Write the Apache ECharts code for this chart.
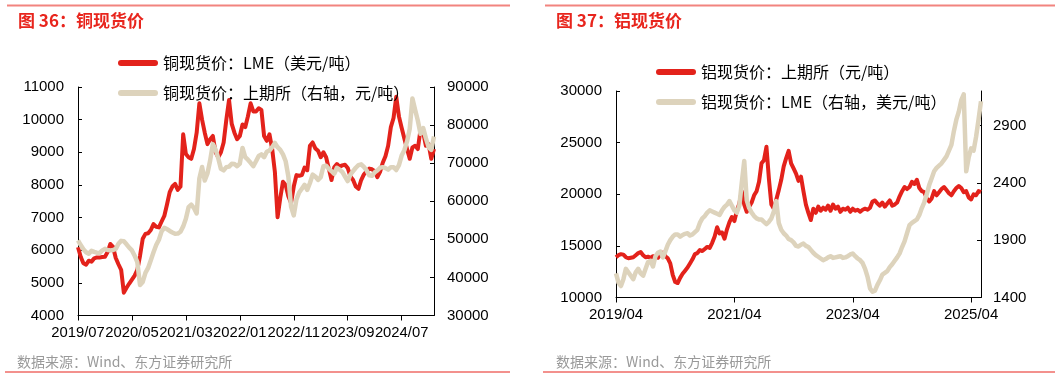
<!DOCTYPE html>
<html><head><meta charset="utf-8">
<script src="https://cdn.jsdelivr.net/npm/echarts@6/dist/echarts.min.js"></script>
<style>html,body{margin:0;padding:0;background:#fff}#c{width:1061px;height:379px}</style>
</head><body><div id="c"></div>
<script>
// ---------- Data (half-month samples) ----------
const cuStart = [2019, 7];
const cuXLabels = ['2019/07','2020/05','2021/03','2022/01','2022/11','2023/09','2024/07'];
const cuLME = [6090,5800,5600,5560,5680,5650,5750,5780,5780,5790,5800,5950,6190,6100,5760,5570,5400,4700,4850,4980,
5100,5220,5400,5830,6350,6500,6520,6620,6800,6720,6700,6880,7050,7400,7780,7950,8030,7850,7950,9550,
8950,8850,8800,9100,9600,10500,10000,9600,9250,9400,9500,9000,8850,9000,9300,10000,10600,9870,9600,9400,
9500,9850,9770,10100,10500,10250,10250,10350,10300,9500,9350,9550,9100,8400,7010,7600,8100,8000,7650,7450,
7950,8300,8280,8300,8530,8450,9200,9300,9120,9050,8850,9000,8850,8500,8150,8540,8640,8560,8600,8620,
8520,8260,8150,7950,7880,8150,8320,8420,8500,8480,8420,8240,8400,8680,8880,9200,9770,10050,10700,10100,
9750,9420,9100,8800,9150,9200,9100,9700,9600,9200,9250,8800,9100];
const cuSHFE = [49700,48500,47400,46600,46200,47000,46700,46500,46400,47100,47500,47200,47100,47200,47500,48840,49600,49500,48700,47800,
47090,45700,44000,38000,38800,41200,42500,44500,46600,48500,49900,52100,53000,52700,52200,51800,51460,51500,52000,53400,
55400,58450,59100,58200,56800,66000,69000,65460,67300,70700,75000,73600,71300,68500,68100,68960,69100,69830,69800,69200,
69900,74000,71580,70900,70100,69200,70500,71900,72300,71580,73000,73330,74200,75300,74200,73500,72300,70500,66500,58600,
56300,60500,62300,63300,64300,63000,64800,67000,66500,65600,66330,69200,69300,68500,67900,67210,68800,68300,67700,66500,
65300,67000,67900,68800,69500,69700,69000,68100,66800,66700,67600,68080,68800,68960,68700,68300,68960,68960,68200,69500,
72000,73400,75700,79000,87000,84000,81200,77700,79200,76500,74200,73500,77000];

const alStart = [2019, 4];
const alXLabels = ['2019/04','2021/04','2023/04','2025/04'];
const alSHFE = [13900,14100,14200,14150,13900,13800,13850,13900,14100,14300,14400,14100,13900,13950,13850,14000,13950,13850,14200,14350,
14000,13800,13300,12200,11500,11400,11900,12300,12600,12900,13300,13700,14200,14300,14600,14500,14700,14900,14800,15300,
15900,16800,16200,16300,15700,16600,17300,17800,17400,18400,19100,20300,19000,18300,18800,19200,19900,20300,21200,23000,
23300,24600,21500,19000,18600,19500,20400,21400,22700,23500,24200,23000,22500,22000,21300,21700,20300,19000,18200,17500,
18600,18200,18800,18400,18700,18500,18900,18400,19000,18600,18800,18300,18600,18500,18700,18300,18600,18400,18500,18300,
18500,18600,18500,18700,19300,19400,19100,18900,19200,18800,19100,19400,18900,19000,19200,19800,20300,20700,20500,20700,
21200,21000,21400,20600,20300,20200,19600,19300,19600,20300,19900,20200,20500,20700,20400,20100,19900,20300,20600,20800,
20600,20200,20300,19700,19500,20000,19900,20300,20200];
const alLME = [1610,1530,1500,1560,1650,1620,1590,1560,1620,1650,1610,1590,1650,1710,1720,1670,1760,1790,1800,1750,
1800,1860,1900,1930,1950,1950,1930,1945,1955,1960,1940,1950,1970,1990,2050,2090,2110,2140,2160,2150,
2140,2130,2120,2160,2190,2210,2240,2200,2160,2140,2200,2400,2590,2250,2180,2140,2110,2090,2080,2080,
2060,2040,2060,2090,2150,2240,2050,1990,1960,1940,1910,1900,1880,1850,1845,1860,1870,1850,1840,1815,
1790,1770,1755,1740,1725,1735,1750,1760,1745,1750,1755,1760,1745,1750,1760,1775,1783,1760,1740,1725,
1700,1650,1580,1480,1450,1460,1510,1550,1600,1615,1630,1665,1690,1720,1750,1785,1840,1890,1960,2030,
2050,2065,2080,2120,2180,2230,2300,2380,2440,2500,2530,2550,2570,2600,2630,2680,2730,2850,2950,3020,
3120,3170,2500,2620,2700,2680,2800,2950,3110];

// ---------- helpers ----------
function halfMonthDates(start, n) {
  const out = [];
  for (let i = 0; i < n; i++) {
    const m0 = start[1] - 1 + Math.floor(i / 2);
    const y = start[0] + Math.floor(m0 / 12), m = (m0 % 12) + 1;
    out.push(y + '-' + String(m).padStart(2, '0') + '-' + (i % 2 ? '16' : '01'));
  }
  return out;
}
function monthOffset(date, start) {
  const [y, m, d] = date.split('-').map(Number);
  return (y - start[0]) * 12 + (m - start[1]) + (d - 1) / 30;
}
const cuDates = halfMonthDates(cuStart, cuLME.length);
const alDates = halfMonthDates(alStart, alSHFE.length);
const pairs = (dates, vals, start) => dates.map((d, i) => [monthOffset(d, start), vals[i]]);

const FONT = '"Liberation Sans", Arial, sans-serif';
const CJK = '"Noto Sans CJK SC", "Liberation Sans", sans-serif';
const RED = '#E3221B', BEIGE = '#DDD3BC';
const names = ['铜现货价：LME（美元/吨）', '铜现货价：上期所（右轴，元/吨）', '铝现货价：上期所（元/吨）', '铝现货价：LME（右轴，美元/吨）'];
const ICON = 'path://M3,0 L37,0 A3,3 0 0 1 37,6 L3,6 A3,3 0 0 1 3,0 Z';
const LEG_TEXT = { fontSize: 16, color: '#000', fontFamily: CJK, lineHeight: 20 };

function yAxis(gi, pos, min, max, interval, margin, hideMax) {
  return {
    type: 'value', gridIndex: gi, position: pos, min, max, interval,
    axisLine: { show: true, lineStyle: { color: '#000', width: 1 } },
    axisTick: { show: true, inside: true, length: 4, lineStyle: { color: '#000' } },
    axisLabel: { color: '#000', fontSize: 15, fontFamily: FONT, margin, showMinLabel: true,
      showMaxLabel: !hideMax, formatter: v => String(v) },
    splitLine: { show: false }
  };
}
function xAxis(gi, max, interval, labels, fs) {
  return {
    type: 'value', gridIndex: gi, min: 0, max, interval,
    axisLine: { show: true, onZero: false, lineStyle: { color: '#000', width: 1 } },
    axisTick: { show: true, inside: false, length: 5, lineStyle: { color: '#000' } },
    axisLabel: { color: '#000', fontSize: fs, fontFamily: FONT, margin: 10, showMinLabel: true, showMaxLabel: false,
      formatter: v => labels[Math.round(v / interval)] || '' },
    splitLine: { show: false }
  };
}
function legend(name, left, top) {
  return { data: [{ name, textStyle: LEG_TEXT }], left, top, padding: 0, itemWidth: 40, itemHeight: 6, icon: ICON,
    textStyle: LEG_TEXT, selectedMode: false };
}
function line(name, data, xi, yi, color, w, z) {
  return { name, type: 'line', xAxisIndex: xi, yAxisIndex: yi, data, showSymbol: false, symbol: 'none',
    lineStyle: { color, width: w, join: 'round' }, itemStyle: { color }, z, animation: false };
}

const chart = echarts.init(document.getElementById('c'), null, { renderer: 'canvas' });
chart.setOption({
  animation: false,
  backgroundColor: '#fff',
  grid: [
    { left: 78, top: 87, width: 356, height: 228.5 },
    { left: 616, top: 91, width: 365, height: 206.5 }
  ],
  xAxis: [xAxis(0, 66, 10, cuXLabels, 14.8), xAxis(1, 74, 24, alXLabels, 15)],
  yAxis: [
    yAxis(0, 'left', 4000, 11000, 1000, 14),
    yAxis(0, 'right', 30000, 90000, 10000, 13),
    yAxis(1, 'left', 10000, 30000, 5000, 14),
    yAxis(1, 'right', 1400, 3200, 500, 12, true)
  ],
  legend: [
    legend(names[0], 118, 53), legend(names[1], 118, 83),
    legend(names[2], 656, 62), legend(names[3], 656, 92)
  ],
  series: [
    line(names[0], pairs(cuDates, cuLME, cuStart), 0, 0, RED, 4, 2),
    line(names[1], pairs(cuDates, cuSHFE, cuStart), 0, 1, BEIGE, 4.5, 3),
    line(names[2], pairs(alDates, alSHFE, alStart), 1, 2, RED, 4, 2),
    line(names[3], pairs(alDates, alLME, alStart), 1, 3, BEIGE, 4.5, 3)
  ],
  graphic: [
    { type: 'line', shape: { x1: 7, y1: 5.5, x2: 510, y2: 5.5 }, style: { stroke: '#F2847F', lineWidth: 2 } },
    { type: 'line', shape: { x1: 545, y1: 5.5, x2: 1055, y2: 5.5 }, style: { stroke: '#F2847F', lineWidth: 2 } },
    { type: 'text', x: 18, y: 21, style: { text: '图 36：铜现货价', font: 'bold 17px ' + CJK, fill: '#E8251D', verticalAlign: 'middle' } },
    { type: 'text', x: 556, y: 21, style: { text: '图 37：铝现货价', font: 'bold 17px ' + CJK, fill: '#E8251D', verticalAlign: 'middle' } },
    { type: 'text', x: 17, y: 362, style: { text: '数据来源：Wind、东方证券研究所', font: '14px ' + CJK, fill: '#999', verticalAlign: 'middle' } },
    { type: 'text', x: 556, y: 362, style: { text: '数据来源：Wind、东方证券研究所', font: '14px ' + CJK, fill: '#999', verticalAlign: 'middle' } },
    { type: 'line', shape: { x1: 5, y1: 372, x2: 510, y2: 372 }, style: { stroke: '#E8251D', lineWidth: 1.2 } },
    { type: 'line', shape: { x1: 543, y1: 372, x2: 1055, y2: 372 }, style: { stroke: '#E8251D', lineWidth: 1.2 } }
  ]
});
</script></body></html>
